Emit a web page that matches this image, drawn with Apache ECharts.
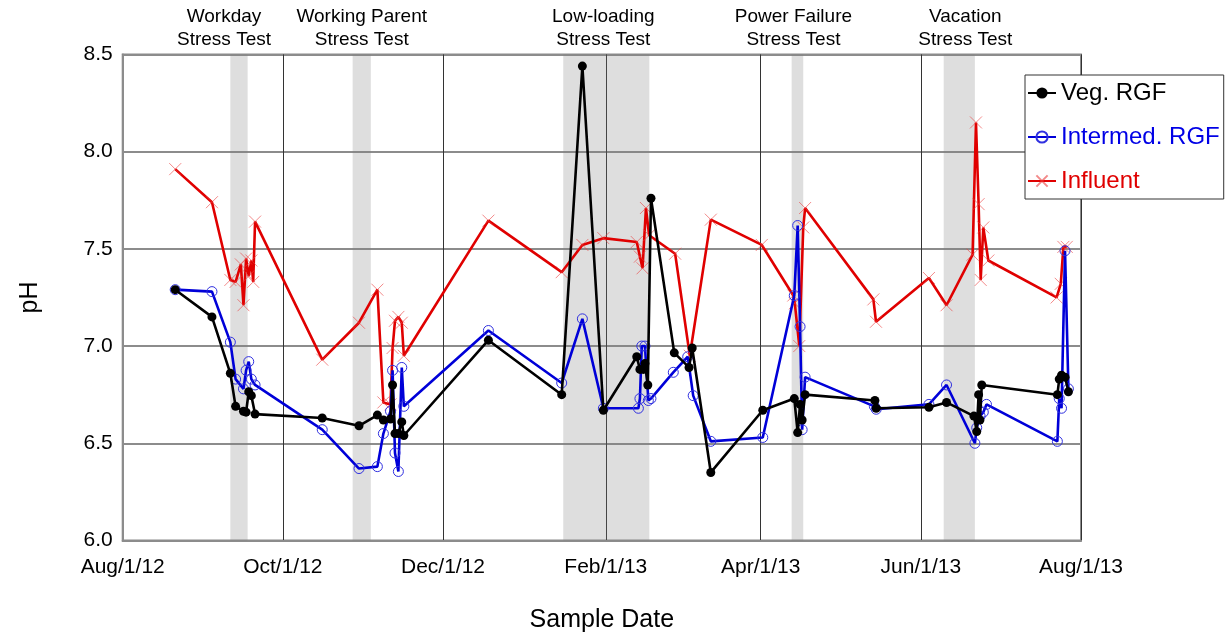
<!DOCTYPE html>
<html><head><meta charset="utf-8">
<script src="https://cdn.jsdelivr.net/npm/echarts@6/dist/echarts.min.js"></script>
<style>html,body{margin:0;padding:0;background:#fff}#c{width:1225px;height:634px}</style>
</head><body><div id="c"></div>
<script>
// ---- axis ----
const START = '2012-08-01';
const END = '2013-08-01';
const tickDates = ['2012-08-01','2012-10-01','2012-12-01','2013-02-01','2013-04-01','2013-06-01','2013-08-01'];
const tickLabels = ['Aug/1/12','Oct/1/12','Dec/1/12','Feb/1/13','Apr/1/13','Jun/1/13','Aug/1/13'];

// ---- stress test periods ----
const bandNames = ['Workday\nStress Test','Working Parent\nStress Test','Low-loading\nStress Test','Power Failure\nStress Test','Vacation\nStress Test'];
const bandStart = ['2012-09-11','2012-10-27 14','2013-01-15 19','2013-04-12 19','2013-06-09 17'];
const bandEnd   = ['2012-09-17 14','2012-11-03 12','2013-02-17 14','2013-04-17 05','2013-06-21 14'];

// ---- Veg. RGF ----
const vegDates = ['2012-08-21','2012-09-04','2012-09-11','2012-09-13','2012-09-16','2012-09-17','2012-09-18','2012-09-19','2012-09-20 10',
 '2012-10-16','2012-10-30','2012-11-06','2012-11-08 07','2012-11-11','2012-11-11 19','2012-11-12 17','2012-11-14','2012-11-15 07','2012-11-16 02',
 '2012-12-18 07','2013-01-15 05','2013-01-23 02','2013-01-31 02','2013-02-12 19','2013-02-14','2013-02-15 07','2013-02-15 22','2013-02-17','2013-02-18 05',
 '2013-02-27 02','2013-03-04 17','2013-03-05 22','2013-03-13','2013-04-01 19','2013-04-13 19','2013-04-15 02','2013-04-16','2013-04-16 19','2013-04-17 22',
 '2013-05-14 12','2013-05-15','2013-06-04 02','2013-06-10 19','2013-06-21 05','2013-06-22 07','2013-06-23','2013-06-23 12','2013-06-24 05',
 '2013-07-23','2013-07-23 17','2013-07-24 14','2013-07-25 22','2013-07-27 05'];
const vegPH = [7.29,7.15,6.86,6.69,6.665,6.66,6.765,6.745,6.65,
 6.63,6.59,6.645,6.62,6.625,6.80,6.55,6.55,6.61,6.54,
 7.03,6.75,8.44,6.67,6.945,6.88,6.88,6.91,6.80,7.76,
 6.965,6.89,6.99,6.35,6.67,6.73,6.555,6.70,6.62,6.75,
 6.72,6.68,6.685,6.71,6.64,6.56,6.75,6.62,6.80,
 6.75,6.83,6.85,6.84,6.765];

// ---- Intermed. RGF ----
const intDates = ['2012-08-21','2012-09-04','2012-09-11','2012-09-13','2012-09-16','2012-09-17','2012-09-18','2012-09-19','2012-09-20 10',
 '2012-10-16','2012-10-30','2012-11-06','2012-11-08 07','2012-11-11','2012-11-11 19','2012-11-12 17','2012-11-14','2012-11-15 07','2012-11-16 02',
 '2012-12-18 07','2013-01-15 05','2013-01-23 02','2013-01-31 02','2013-02-13 10','2013-02-14','2013-02-14 17','2013-02-15 22','2013-02-17 05','2013-02-18 05',
 '2013-02-26 17','2013-03-04 05','2013-03-06 07','2013-03-13','2013-04-01 19','2013-04-13 19','2013-04-15 02','2013-04-16','2013-04-16 19','2013-04-17 22',
 '2013-05-14 07','2013-05-15','2013-06-04 02','2013-06-10 19','2013-06-21 14','2013-06-22 07','2013-06-23 14','2013-06-24 19','2013-06-26',
 '2013-07-23','2013-07-23 17','2013-07-24 14','2013-07-25 22','2013-07-27 05'];
const intPH = [7.29,7.28,7.02,6.83,6.78,6.875,6.92,6.83,6.80,
 6.57,6.37,6.38,6.55,6.665,6.875,6.45,6.355,6.89,6.69,
 7.08,6.81,7.14,6.68,6.68,6.73,7.00,7.00,6.72,6.73,
 6.865,6.945,6.745,6.51,6.53,7.26,7.62,7.10,6.57,6.84,
 6.69,6.675,6.70,6.80,6.50,6.58,6.64,6.66,6.70,
 6.51,6.73,6.68,7.49,6.78];

// ---- Influent ----
const infDates = ['2012-08-21','2012-09-04','2012-09-11','2012-09-13','2012-09-15','2012-09-16','2012-09-17','2012-09-18','2012-09-19','2012-09-19 17','2012-09-20 10',
 '2012-10-16','2012-10-30','2012-11-06','2012-11-08 07','2012-11-11','2012-11-11 19','2012-11-12 17','2012-11-14','2012-11-15 07','2012-11-16 02',
 '2012-12-18 07','2013-01-15 05','2013-01-23 02','2013-01-31 02','2013-02-12 19','2013-02-14','2013-02-15','2013-02-16 07','2013-02-17 12',
 '2013-02-27 10','2013-03-05','2013-03-13','2013-04-01 10','2013-04-13 10','2013-04-14','2013-04-15 17','2013-04-17 05','2013-04-17 22',
 '2013-05-13 22','2013-05-14 22','2013-06-04 02','2013-06-10 19','2013-06-20 17','2013-06-22','2013-06-23','2013-06-23 19','2013-06-24 19','2013-06-26 17',
 '2013-07-22 17','2013-07-24 07','2013-07-25 07','2013-07-26 14'];
const infPH = [7.91,7.74,7.34,7.33,7.42,7.21,7.45,7.36,7.44,7.33,7.64,
 6.93,7.12,7.29,6.71,6.70,6.99,7.13,7.15,7.12,6.95,
 7.645,7.38,7.52,7.555,7.535,7.46,7.40,7.71,7.57,
 7.475,6.95,7.65,7.52,7.26,7.22,7.00,7.61,7.71,
 7.24,7.125,7.35,7.21,7.47,8.15,7.73,7.34,7.61,7.44,
 7.25,7.32,7.51,7.51];

// ---- helpers ----
function dayOf(s){
  const [d,h] = s.split(' ');
  const [Y,M,D] = d.split('-').map(Number);
  const [y0,m0,d0] = START.split('-').map(Number);
  return (Date.UTC(Y,M-1,D,h?Number(h):0) - Date.UTC(y0,m0-1,d0))/86400000;
}
const pairs = (ds, vs) => ds.map((d,i)=>[dayOf(d), vs[i]]);
const tickDays = tickDates.map(dayOf);
const FONT = 'Liberation Sans, Arial, sans-serif';
const XPATH = 'path://M0,0L10,10M10,0L0,10';
const labelShift = [-15, 0, -3, -4, 6]; // horizontal nudges of the band captions (px)

const chart = echarts.init(document.getElementById('c'), null, {renderer:'canvas'});
chart.setOption({
  animation:false,
  backgroundColor:'#fff',
  textStyle:{fontFamily:FONT},
  grid:{left:122.7, right:144, top:54.4, bottom:93.5, outerBoundsMode:'none', containLabel:false,
        show:true, borderColor:'#8c8c8c', borderWidth:2, backgroundColor:'transparent'},
  xAxis:{
    type:'value', min:dayOf(START), max:dayOf(END),
    name:'Sample Date', nameLocation:'middle', nameGap:67,
    nameTextStyle:{fontSize:25, color:'#000', fontFamily:FONT},
    axisLine:{show:true, lineStyle:{color:'#8c8c8c', width:2}},
    axisTick:{show:false, customValues:tickDays},
    axisLabel:{customValues:tickDays, fontSize:21, color:'#000', margin:16, fontFamily:FONT,
      formatter:(v)=>{const i=tickDays.findIndex(t=>Math.abs(t-v)<1e-6); return i>=0?tickLabels[i]:'';}},
    splitLine:{show:true, lineStyle:{color:'#333', width:1}}
  },
  yAxis:{
    type:'value', min:6, max:8.5, interval:0.5,
    name:'pH', nameLocation:'middle', nameGap:80, nameRotate:90,
    nameTextStyle:{fontSize:25, color:'#000', fontFamily:FONT},
    axisLine:{show:true, lineStyle:{color:'#8c8c8c', width:2}},
    axisTick:{show:false},
    axisLabel:{fontSize:21, color:'#000', margin:10, fontFamily:FONT, formatter:(v)=>v.toFixed(1)},
    splitLine:{show:true, lineStyle:{color:'#8c8c8c', width:2}}
  },
  legend:{
    orient:'vertical', left:1025, top:75,
    backgroundColor:'#fff', borderColor:'#333', borderWidth:1,
    padding:[6,4,6,2], itemGap:20, itemWidth:28, itemHeight:14,
    textStyle:{fontSize:24, fontFamily:FONT},
    data:[
      {name:'Veg. RGF', textStyle:{color:'#000'}},
      {name:'Intermed. RGF', textStyle:{color:'#0000e6'}},
      {name:'Influent', textStyle:{color:'#e00000'}}
    ]
  },
  series:[
    {
      name:'bands', type:'line', data:[], z:1, silent:true,
      markArea:{
        silent:true,
        itemStyle:{color:'rgba(128,128,128,0.26)'},
        label:{show:true, position:'top', distance:3, color:'#000', fontSize:19, lineHeight:23, fontFamily:FONT, align:'center'},
        data: bandNames.map((n,i)=>[{name:n, xAxis:dayOf(bandStart[i]), label:{offset:[labelShift[i],0]}},{xAxis:dayOf(bandEnd[i])}])
      }
    },
    {
      name:'Influent', type:'line', z:3,
      data:pairs(infDates, infPH),
      symbol:XPATH, symbolSize:12, showAllSymbol:true,
      lineStyle:{color:'#e00000', width:2.6},
      itemStyle:{color:'transparent', borderColor:'rgba(235,60,60,0.6)', borderWidth:1}
    },
    {
      name:'Intermed. RGF', type:'line', z:4,
      data:pairs(intDates, intPH),
      symbol:'circle', symbolSize:10, showAllSymbol:true,
      lineStyle:{color:'#0000d8', width:2.6},
      itemStyle:{color:'transparent', borderColor:'#3030e0', borderWidth:1}
    },
    {
      name:'Veg. RGF', type:'line', z:5,
      data:pairs(vegDates, vegPH),
      symbol:'circle', symbolSize:9, showAllSymbol:true,
      lineStyle:{color:'#000', width:2.6},
      itemStyle:{color:'#000', borderColor:'#000', borderWidth:0}
    }
  ]
});
</script></body></html>
